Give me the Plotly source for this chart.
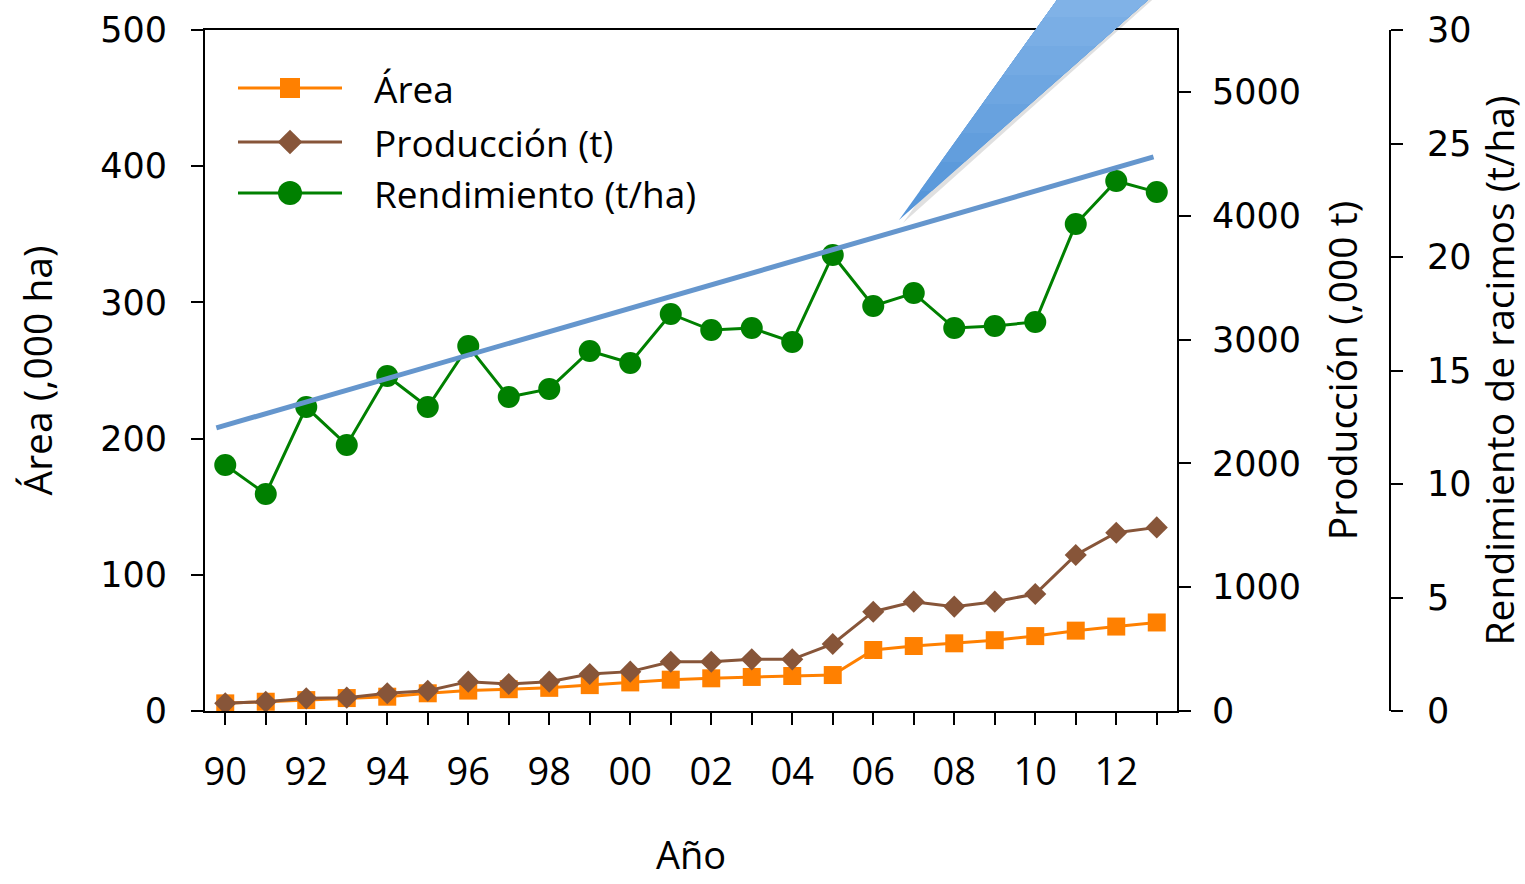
import plotly.graph_objects as go

# Años de la serie
years = list(range(1990, 2014))
year_labels = [f"{y % 100:02d}" if y % 2 == 0 else "" for y in years]

# Área sembrada (,000 ha)
area = [5.6, 6.8, 8, 9.5, 10.5, 13, 15, 16, 17, 19, 21, 23,
        24, 25, 25.7, 26.4, 44.8, 47.7, 49.7, 52, 55, 59, 62, 65]

# Producción (,000 t)
produccion = [62, 75, 102, 108, 143, 164, 237, 218, 237, 299, 318, 398,
              398, 417, 417, 541, 802, 883, 843, 883, 945, 1260, 1440, 1483]

# Rendimiento de racimos (t/ha)
rendimiento = [10.84, 9.56, 13.39, 11.72, 14.76, 13.39, 16.08, 13.83, 14.19, 15.86, 15.33, 17.49,
               16.78, 16.87, 16.26, 20.09, 17.84, 18.41, 16.87, 16.96, 17.14, 21.45, 23.35, 22.86]

# Línea de tendencia del rendimiento (extremos)
trend_x = [1989.78, 2012.92]
trend_y = [12.47, 24.41]

# Series names shown in the key
series_names = ["Área", "Producción (t)", "Rendimiento (t/ha)"]

ORANGE = "#FF8000"
BROWN = "#875539"
GREEN = "#008000"
TREND = "#6596CD"

tick_font = dict(family="DejaVu Sans", size=35, color="black")
title_font = dict(family="Open Sans", size=39, color="black")

styles = [
    dict(color=ORANGE, symbol="square", size=18, axis="y"),
    dict(color=BROWN, symbol="diamond", size=17, axis="y2"),
    dict(color=GREEN, symbol="circle", size=22, axis="y3"),
]

fig = go.Figure()

for name, values, st in zip(series_names, [area, produccion, rendimiento], styles):
    fig.add_trace(go.Scatter(
        x=years, y=values, name=name, mode="lines+markers",
        line=dict(color=st["color"], width=3),
        marker=dict(symbol=st["symbol"], size=st["size"], color=st["color"]),
        yaxis=st["axis"], showlegend=False))

fig.add_trace(go.Scatter(
    x=trend_x, y=trend_y, mode="lines", showlegend=False,
    line=dict(color=TREND, width=5), yaxis="y3", hoverinfo="skip"))

# Plot geometry in pixels
L, R, B, TOP = 205, 1390, 711, 30
PW, PH = R - L, B - TOP
X_RIGHT = 1177

# Key drawn on an invisible pixel-unit overlay axis pair
key_rows = [88, 142, 193]
key_x0, key_xm, key_x1, key_text_x = 238, 290, 342, 372
annotations = []
for name, row, st in zip(series_names, key_rows, styles):
    fig.add_trace(go.Scatter(
        x=[key_x0, key_x1], y=[row, row], mode="lines",
        line=dict(color=st["color"], width=3),
        xaxis="x2", yaxis="y4", showlegend=False, hoverinfo="skip"))
    fig.add_trace(go.Scatter(
        x=[key_xm], y=[row], mode="markers",
        marker=dict(symbol=st["symbol"], size=st["size"] + 2, color=st["color"],
                    opacity=1, line=dict(width=0)),
        xaxis="x2", yaxis="y4", showlegend=False, hoverinfo="skip"))
    annotations.append(dict(x=key_text_x, y=row, xref="x2", yref="y4", text=name,
                            showarrow=False, xanchor="left", yanchor="middle",
                            font=dict(family="Open Sans", size=37, color="black")))

x_dom_end = (X_RIGHT - L) / PW

# x-axis title placed below the tick labels, kept inside the page
annotations.append(dict(x=x_dom_end / 2, y=(B - 854) / PH, xref="paper", yref="paper",
                        text="Año", showarrow=False, xanchor="center", yanchor="middle",
                        font=dict(family="Open Sans", size=38, color="black")))


# Callout wedge pointing at the trend line, shaded from light (top) to darker (tip)
def px(xp, yp):
    return (xp - L) / PW, (B - yp) / PH


tip = (899, 220)
top_y = -12
left_top = (899 + 158 * (220 - top_y) / 220, top_y)
right_top = (899 + 249 * (220 - top_y) / 220, top_y)


def edge_at(yp):
    f = (tip[1] - yp) / (tip[1] - top_y)
    xl = tip[0] + (left_top[0] - tip[0]) * f
    xr = tip[0] + (right_top[0] - tip[0]) * f
    return xl, xr


def poly(points):
    pts = [px(*p) for p in points]
    return "M " + " L ".join(f"{a:.5f},{b:.5f}" for a, b in pts) + " Z"


shapes = []
# soft shadow
shapes.append(dict(type="path", xref="paper", yref="paper", layer="above",
                   path=poly([(tip[0] + 4, tip[1] + 3), (left_top[0] + 4, top_y), (right_top[0] + 4, top_y)]),
                   fillcolor="rgba(0,0,0,0.12)", line=dict(width=0)))
shapes.append(dict(type="path", xref="paper", yref="paper", layer="above",
                   path=poly([tip, left_top, right_top]),
                   fillcolor="#5696D9", line=dict(width=0)))
steps = 8
c0 = (0x56, 0x96, 0xD9)
c1 = (0x80, 0xB2, 0xE7)
for k in range(1, steps):
    yk = tip[1] - (tip[1] - top_y) * k / steps
    xl, xr = edge_at(yk)
    t = k / (steps - 1)
    col = "rgb({},{},{})".format(*[int(c0[i] + (c1[i] - c0[i]) * t) for i in range(3)])
    shapes.append(dict(type="path", xref="paper", yref="paper", layer="above",
                       path=poly([(xl, yk), left_top, right_top, (xr, yk)]),
                       fillcolor=col, line=dict(width=0)))

axis_common = dict(showline=True, linecolor="black", linewidth=2, ticks="outside",
                   ticklen=12, tickwidth=2, tickcolor="black", showgrid=False,
                   zeroline=False, tickfont=tick_font, automargin=False)

fig.update_layout(
    width=1525, height=884,
    margin=dict(l=L, r=1525 - R, t=TOP, b=884 - B),
    paper_bgcolor="white", plot_bgcolor="white",
    shapes=shapes,
    annotations=annotations,
    showlegend=False,
    xaxis=dict(domain=[0, x_dom_end], range=[1989.5, 2013.5],
               tickvals=years, ticktext=year_labels, mirror=True,
               ticklabelstandoff=14,
               **{k: v for k, v in axis_common.items() if k != "tickfont"},
               tickfont=dict(family="Open Sans", size=38, color="black")),
    xaxis2=dict(domain=[0, x_dom_end], range=[L, X_RIGHT], overlaying="x",
                anchor="y4", visible=False, fixedrange=True),
    yaxis=dict(range=[0, 500], tickvals=[0, 100, 200, 300, 400, 500],
               ticklabelstandoff=17,
               title=dict(text="Área (,000 ha)", font=title_font, standoff=36),
               **axis_common),
    yaxis2=dict(range=[0, 5500], tickvals=[0, 1000, 2000, 3000, 4000, 5000],
                overlaying="y", side="right", anchor="x",
                ticklabelstandoff=14,
                title=dict(text="Producción (,000 t)", font=title_font, standoff=30),
                **axis_common),
    yaxis3=dict(range=[0, 30], tickvals=[0, 5, 10, 15, 20, 25, 30],
                overlaying="y", side="right", anchor="free", position=1.0,
                ticklabelstandoff=17,
                title=dict(text="Rendimiento de racimos (t/ha)", font=title_font, standoff=10),
                **axis_common),
    yaxis4=dict(range=[B, TOP], overlaying="y", anchor="x2", visible=False, fixedrange=True),
)

fig.write_html("out.html")
